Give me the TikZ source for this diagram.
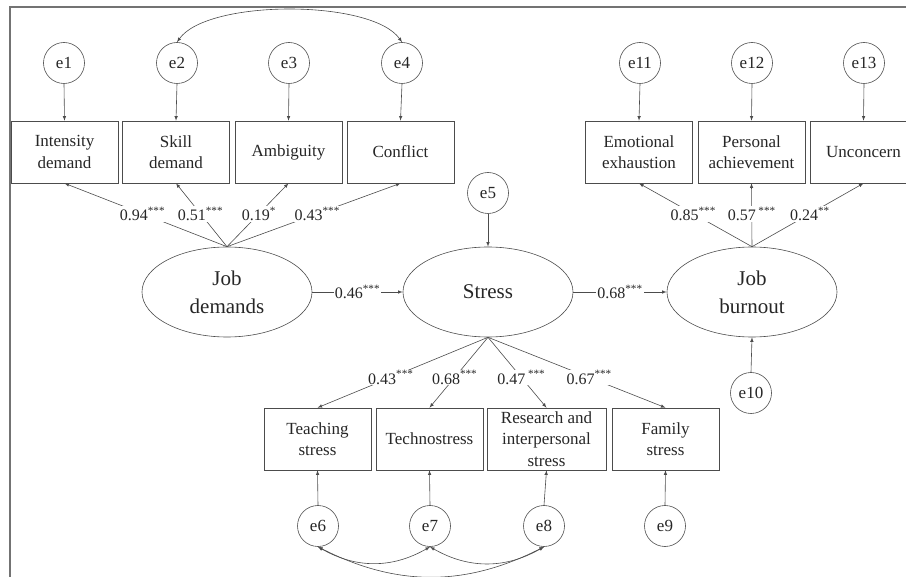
\documentclass[tikz,border=0pt]{standalone}
\usepackage{fontspec}
\setmainfont{Liberation Serif}
\usetikzlibrary{shapes.geometric}
\tikzset{
	obs/.style={draw=black!70, line width=.6pt, text=black!85, minimum width=107pt, minimum height=62pt, inner sep=1pt, align=center, font=\fontsize{17}{21.5}\selectfont},
	lat/.style={draw=black!70, line width=.6pt, text=black!85, ellipse, minimum width=170pt, minimum height=90pt, inner sep=0pt, align=center, font=\fontsize{21}{28}\selectfont},
	err/.style={draw=black!70, line width=.6pt, text=black!85, circle, minimum size=41pt, inner sep=0pt, font=\fontsize{17}{20}\selectfont},
	coef/.style={fill=white, text=black!85, inner sep=1pt, font=\fontsize{16}{18}\selectfont},
	lnk/.style={draw=black!70, line width=.6pt, -latex},
	cov/.style={draw=black!70, line width=.6pt, latex-latex}
}
\begin{document}
\begin{tikzpicture}[x=1pt, y=-1pt]
		\useasboundingbox (0,0) rectangle (906,577);
		\clip (0,0) rectangle (906,577);
		\draw[black!55, line width=1.6pt](10,577)--(10,7)--(906,7);
		% job demands
		\node[err] (e1) at (64,63) {e1};
		\node[err] (e2) at (177,63) {e2};
		\node[err] (e3) at (289,63) {e3};
		\node[err] (e4) at (402,63) {e4};
		\node[obs] (intens) at (64.5,152) {Intensity\\demand};
		\node[obs] (skill) at (176,152) {Skill\\demand};
		\node[obs] (ambig) at (288.5,152) {Ambiguity};
		\node[obs] (confl) at (400.5,152) {Conflict};
		\node[lat] (jd) at (227,292) {Job\\demands};
		% stress
		\node[err] (e5) at (488,193) {e5};
		\node[lat] (stress) at (488,292) {Stress};
		\node[obs] (teach) at (317.5,439) {Teaching\\stress};
		\node[obs] (techno) at (429.5,439) {Technostress};
		\node[obs, minimum width=119pt] (resint) at (546.5,439) {Research and\\interpersonal\\stress};
		\node[obs] (family) at (665.5,439) {Family\\stress};
		\node[err] (e6) at (318,526) {e6};
		\node[err] (e7) at (430,526) {e7};
		\node[err] (e8) at (544,526) {e8};
		\node[err] (e9) at (665,526) {e9};
		% job burnout
		\node[lat] (jb) at (752,292) {Job\\burnout};
		\node[err] (e10) at (751,393) {e10};
		\node[obs] (emot) at (639,152) {Emotional\\exhaustion};
		\node[obs] (pers) at (751.5,152) {Personal\\achievement};
		\node[obs] (uncon) at (863.5,152) {Unconcern};
		\node[err] (e11) at (640,63) {e11};
		\node[err] (e12) at (752,63) {e12};
		\node[err] (e13) at (864,63) {e13};

		\foreach \e/\b in {e1/intens, e2/skill, e3/ambig, e4/confl, e11/emot, e12/pers, e13/uncon}
			\draw[lnk](\e.south)--(\b.north);
		\foreach \e/\b in {e6/teach, e7/techno, e8/resint, e9/family}
			\draw[lnk](\e.north)--(\b.south);
		\draw[lnk](e5.south)--(stress.north);
		\draw[lnk](e10.north)--(jb.south);

		\draw[lnk](jd.north)--node[coef, pos=.52]{0.94\textsuperscript{***}}(intens.south);
		\draw[lnk](jd.north)--node[coef, pos=.52]{0.51\textsuperscript{***}}(skill.south);
		\draw[lnk](jd.north)--node[coef, pos=.52]{0.19\textsuperscript{*}}(ambig.south);
		\draw[lnk](jd.north)--node[coef, pos=.52]{0.43\textsuperscript{***}}(confl.south);

		\draw[lnk](stress.south)--node[coef, pos=.57]{0.43\textsuperscript{***}}(teach.north);
		\draw[lnk](stress.south)--node[coef, pos=.57]{0.68\textsuperscript{***}}(techno.north);
		\draw[lnk](stress.south)--node[coef, pos=.57]{0.47\,\textsuperscript{***}}(resint.north);
		\draw[lnk](stress.south)--node[coef, pos=.57]{0.67\textsuperscript{***}}(family.north);

		\draw[lnk](jb.north)--node[coef, pos=.52]{0.85\textsuperscript{***}}(emot.south);
		\draw[lnk](jb.north)--node[coef, pos=.52]{0.57\,\textsuperscript{***}}(pers.south);
		\draw[lnk](jb.north)--node[coef, pos=.52]{0.24\textsuperscript{**}}(uncon.south);

		\draw[lnk](jd.east)--node[coef]{0.46\textsuperscript{***}}(stress.west);
		\draw[lnk](stress.east)--node[coef]{0.68\textsuperscript{***}}(jb.west);

		\draw[cov](e2.north) to[out=55, in=125, looseness=.6] (e4.north);
		\draw[cov](e6.south) to[out=-30, in=-150] (e7.south);
		\draw[cov](e7.south) to[out=-30, in=-150] (e8.south);
		\draw[cov](e6.south) to[out=-27, in=-153] (e8.south);
	\end{tikzpicture}
\end{document}
